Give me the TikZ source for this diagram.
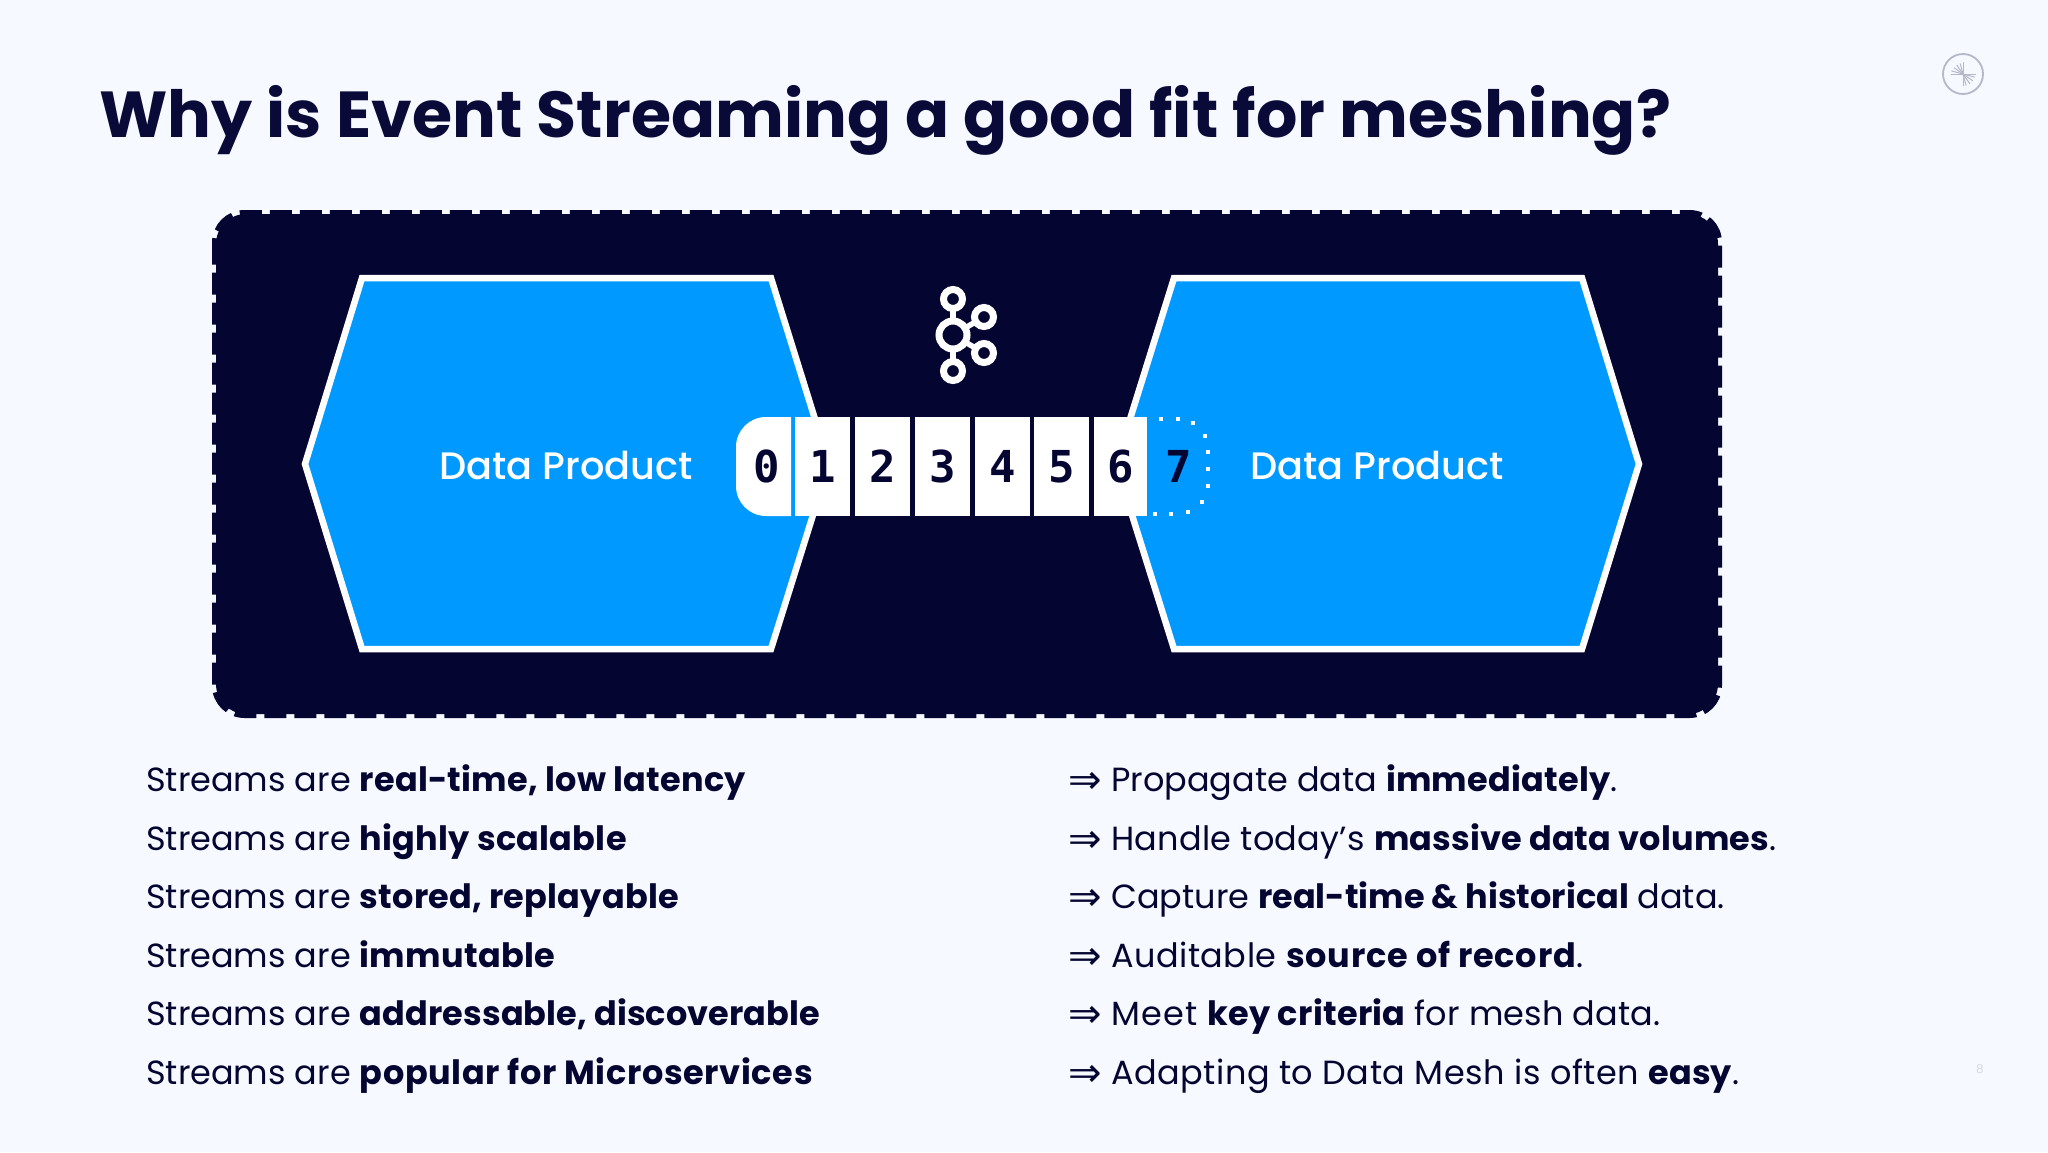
\documentclass[tikz,border=0pt]{standalone}
\usepackage{fontspec}
\setmainfont{Poppins}
\newfontfamily\medfont{Poppins}[UprightFont=* Medium]
\newfontfamily\arrowfont{DejaVu Sans}
\newfontfamily\digitfont{DejaVu Sans Mono}[BoldFont=* Bold]
\newcommand\lsp[2]{{\addfontfeature{LetterSpace=#1}#2}}
\newcommand\bsp[2]{{\bfseries\addfontfeature{LetterSpace=#1}#2}}
\definecolor{bgc}{HTML}{F6F9FF}
\definecolor{navy}{HTML}{040531}
\definecolor{titlec}{HTML}{0A0A38}
\definecolor{blu}{HTML}{0099FF}
\definecolor{logoc}{HTML}{B4B8C8}
\definecolor{pagec}{HTML}{D6DAE4}
\tikzset{
  x=1pt,y=-1pt,
  hexa/.style={fill=blu,draw=white,line width=6.5pt,line join=miter},
  cellbox/.style={fill=white,draw=none,minimum width=55pt,minimum height=99pt,inner sep=0pt,text=navy,font=\digitfont\bfseries\fontsize{44}{44}\selectfont},
  digitlab/.style={inner sep=0pt,text=navy,font=\digitfont\bfseries\fontsize{44}{44}\selectfont},
  line/.style={anchor=base west,inner sep=0pt,text=navy,font=\fontsize{33.5}{40}\selectfont},
  arrowlab/.style={anchor=base west,inner sep=0pt,text=navy,font=\arrowfont\fontsize{40}{44}\selectfont},
  ring/.style={draw=white,line width=7pt},
  spoke/.style={draw=white,line width=5.5pt},
  dpl/.style={text=white,inner sep=0pt,font=\medfont\fontsize{38.3}{40}\selectfont},
}
\begin{document}
\begin{tikzpicture}
\useasboundingbox (0,0) rectangle (2048,1152);
\fill[bgc] (0,0) rectangle (2048,1152);
% title
\node[anchor=base west,inner sep=0pt,text=titlec,font=\bfseries\fontsize{65}{70}\selectfont] (title) at (99,137) {\bsp{0.2}{Why is Event Streaming a good fit for meshing?}};
% corner logo
\node[circle,draw=logoc,line width=1.8pt,minimum size=40pt,inner sep=0pt] (logo) at (1963,74) {};
\foreach \a/\l in {0/13,180/12,90/12,270/12,15/12,35/12,55/12,75/12,195/12,215/11,235/11,255/11}{
  \draw[logoc,line width=1pt] (logo.center) -- ++(\a:\l);
}
% panel
\fill[navy,rounded corners=30pt] (216,214) rectangle (1718,714);
\draw[navy,line width=5pt,rounded corners=30pt,dash pattern=on 22pt off 8pt] (214.5,212.5) rectangle (1719.5,715.5);
% hexagons
\draw[hexa] (362,278) -- (771,278) -- (829,464) -- (771,649) -- (362,649) -- (305,464) -- cycle;
\draw[hexa] (1174,278) -- (1582,278) -- (1639,464) -- (1582,649) -- (1174,649) -- (1116,464) -- cycle;
\node[dpl] (dpa) at (566,465) {Data Product};
\node[dpl] (dpb) at (1377,465) {Data Product};
% kafka logo
\coordinate (kc) at (953,335);
\coordinate (kt) at (953,299);
\coordinate (kb) at (953,371);
\coordinate (ku) at (984,317);
\coordinate (kl) at (984,353);
\draw[spoke] (kc) -- (kt);
\draw[spoke] (kc) -- (kb);
\draw[spoke] (kc) -- (ku);
\draw[spoke] (kc) -- (kl);
\fill[navy] (kc) circle (14);
\fill[navy] (kt) circle (10);
\fill[navy] (kb) circle (10);
\fill[navy] (ku) circle (10);
\fill[navy] (kl) circle (10);
\draw[ring] (kc) circle (14);
\draw[ring] (kt) circle (9.5);
\draw[ring] (kb) circle (9.5);
\draw[ring] (ku) circle (9.5);
\draw[ring] (kl) circle (9.5);
% strip
\fill[white] (791,417) -- (791,516) -- (766,516) arc[start angle=90,end angle=180,radius=30] -- (736,447) arc[start angle=180,end angle=270,radius=30] -- cycle;
\node[digitlab] (d0) at (767,466.5) {0};
\node[cellbox] (d1) at (822.5,466.5) {1};
\node[cellbox] (d2) at (882.5,466.5) {2};
\node[cellbox] (d3) at (942.5,466.5) {3};
\node[cellbox] (d4) at (1002.5,466.5) {4};
\node[cellbox] (d5) at (1061.5,466.5) {5};
\node[cellbox,minimum width=53pt] (d6) at (1120.5,466.5) {6};
\node[digitlab] (d7) at (1179,466.5) {7};
\foreach \x/\y in {1161/419,1178/419,1193/423,1205/436,1208/452,1208/469,1208/486,1202/502,1188/512,1171/514,1155/514}{
  \fill[white] (\x-2.3,\y-2.3) rectangle (\x+2.3,\y+2.3);
}
% left column
\node[line] (l1) at (146,791) {Streams are \bsp{0.7}{real-time, low latency}};
\node[line] (l2) at (146,850) {Streams are \bsp{0.8}{highly scalable}};
\node[line] (l3) at (146,908) {Streams are \bsp{0.65}{stored, replayable}};
\node[line] (l4) at (146,967) {Streams are \bsp{0.85}{immutable}};
\node[line] (l5) at (146,1025) {Streams are \bsp{0.3}{addressable, discoverable}};
\node[line] (l6) at (146,1084) {Streams are \bsp{1.9}{popular for Microservices}};
% right column
\foreach \n/\y in {a/793,b/852,c/910,d/969,e/1027,f/1086}{
  \node[arrowlab] (arr\n) at (1068,\y) {⇒};
}
\node[line] (r1) at (1111,791) {Propagate data \bsp{0.7}{immediately}.};
\node[line] (r2) at (1111,850) {\lsp{0.8}{Handle today’s }\bsp{0.4}{massive data volumes}.};
\node[line] (r3) at (1111,908) {Capture \textbf{real-time \& historical} \lsp{-0.4}{data.}};
\node[line] (r4) at (1111,967) {\lsp{1.5}{Auditable }\bsp{2.5}{source of record}.};
\node[line] (r5) at (1111,1025) {\lsp{3.5}{Meet }\bsp{0.9}{key criteria} \lsp{0.5}{for mesh data.}};
\node[line] (r6) at (1111,1084) {\lsp{1.5}{Adapting to Data Mesh is often }\textbf{easy}.};
\node[text=pagec,inner sep=0pt,font=\fontsize{12}{14}\selectfont] (pg) at (1980,1069) {8};
\end{tikzpicture}
\end{document}
